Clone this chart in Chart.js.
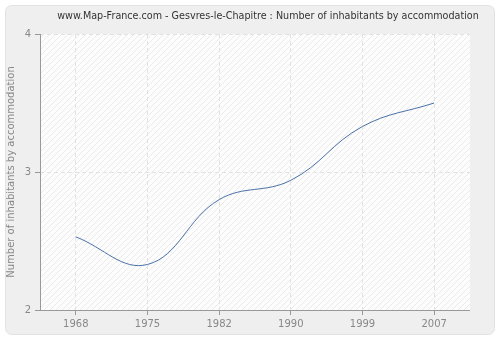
<!DOCTYPE html>
<html>
<head>
<meta charset="utf-8">
<script src="https://cdn.jsdelivr.net/npm/chart.js@4/dist/chart.umd.min.js"></script>
<style>
  html, body { margin: 0; padding: 0; background: #fff; }
  #wrap { width: 500px; height: 340px; }
</style>
</head>
<body>
<div id="wrap"><canvas id="chart" width="500" height="340"></canvas></div>
<script>
const years = ["1968", "1975", "1982", "1990", "1999", "2007"];
const inhabitantsPerHome = [2.53, 2.33, 2.80, 2.94, 3.33, 3.50];
const yTicks = [2, 3, 4];

const TITLE = "www.Map-France.com - Gesvres-le-Chapitre : Number of inhabitants by accommodation";
const FONT = "'DejaVu Sans', Verdana, sans-serif";

// diagonal hatch used behind the plot
function makeHatch() {
  const c = document.createElement("canvas");
  c.width = 6; c.height = 6;
  const g = c.getContext("2d");
  g.fillStyle = "#fdfdfd";
  g.fillRect(0, 0, 6, 6);
  g.strokeStyle = "#eaeaea";
  g.lineWidth = 1;
  g.beginPath();
  g.moveTo(0, 6); g.lineTo(6, 0);
  g.moveTo(-3, 3); g.lineTo(3, -3);
  g.moveTo(3, 9); g.lineTo(9, 3);
  g.stroke();
  return c;
}

const backdrop = {
  id: "backdrop",
  beforeDraw(chart) {
    const ctx = chart.ctx;
    const a = chart.chartArea;
    ctx.save();
    // outer panel
    ctx.fillStyle = "#efefef";
    ctx.strokeStyle = "#e2e2e2";
    ctx.lineWidth = 1;
    ctx.beginPath();
    ctx.roundRect(5.5, 5.5, 489, 329, 6);
    ctx.fill();
    ctx.stroke();
    // plot area
    ctx.fillStyle = ctx.createPattern(makeHatch(), "repeat");
    ctx.fillRect(a.left, a.top, a.right - a.left, a.bottom - a.top);
    // title
    ctx.fillStyle = "#333";
    ctx.font = "9.6px " + FONT;
    ctx.textAlign = "center";
    ctx.textBaseline = "middle";
    ctx.fillText(TITLE, 268, 16);
    ctx.restore();
  },
  afterDraw(chart) {
    const ctx = chart.ctx;
    const a = chart.chartArea;
    const b = Math.round(a.bottom) + 0.5;
    const l = Math.round(a.left) + 0.5;
    ctx.save();
    ctx.strokeStyle = "#999";
    ctx.lineWidth = 1;
    ctx.beginPath();
    ctx.moveTo(a.left - 5, b);
    ctx.lineTo(a.right, b);
    ctx.moveTo(l, a.top);
    ctx.lineTo(l, b);
    ctx.stroke();
    ctx.restore();
  }
};

new Chart(document.getElementById("chart"), {
  type: "line",
  data: {
    labels: years,
    datasets: [{
      data: inhabitantsPerHome,
      borderColor: "#4a72a8",
      borderWidth: 1,
      pointRadius: 0,
      fill: false,
      tension: 0.4
    }]
  },
  options: {
    responsive: false,
    animation: false,
    layout: { padding: { left: 5, top: 34, right: 30, bottom: 5 } },
    plugins: { legend: { display: false }, tooltip: { enabled: false } },
    scales: {
      x: {
        offset: true,
        grid: {
          offset: false,
          color: "#e2e2e2",
          tickColor: "#999",
          tickBorderDash: [],
          tickLength: 5
        },
        border: { display: false, dash: [4, 3] },
        ticks: { color: "#888", font: { family: FONT, size: 10 }, padding: 3, maxRotation: 0 },
        afterFit(s) { s.height = 25; }
      },
      y: {
        min: 2,
        max: 4,
        afterBuildTicks(s) { s.ticks = yTicks.map(v => ({ value: v })); },
        grid: {
          color: "#e2e2e2",
          tickColor: "#999",
          tickBorderDash: [],
          tickLength: 5
        },
        border: { display: false, dash: [4, 3] },
        ticks: { color: "#888", font: { family: FONT, size: 10 }, padding: 4 },
        title: {
          display: true,
          text: "Number of inhabitants by accommodation",
          color: "#888",
          font: { family: FONT, size: 10 },
          padding: { top: 0, bottom: 0 }
        },
        afterFit(s) { s.width = 35; }
      }
    }
  },
  plugins: [backdrop]
});
</script>
</body>
</html>
